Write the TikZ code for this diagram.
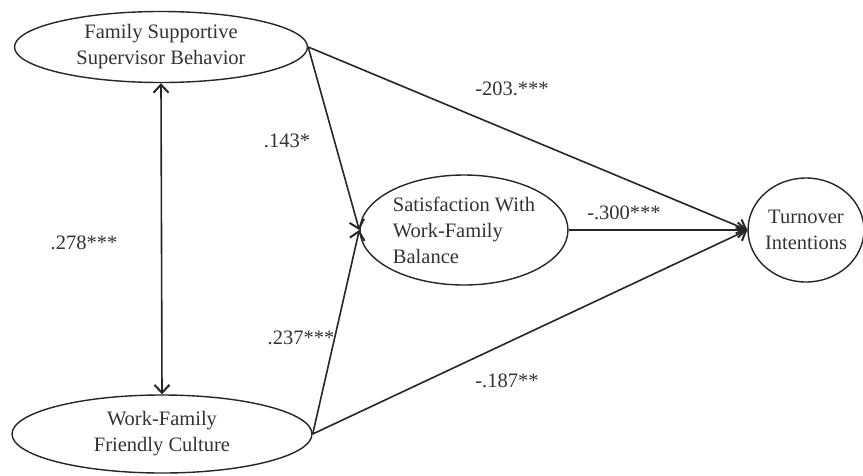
\documentclass[tikz,border=0pt]{standalone}
\usepackage{fontspec}
\setmainfont{Liberation Serif}
\usetikzlibrary{shapes.geometric,arrows.meta}
\begin{document}
\begin{tikzpicture}[x=1pt,y=-1pt,
  every node/.style={font=\fontsize{20.5}{26}\selectfont, text=black!80},
  var/.style={ellipse, draw=black!85, line width=1.4pt, inner sep=0pt, align=center},
  tip/.style={Straight Barb[length=8pt,width=15pt,line width=2pt]},
  path/.style={draw=black!85, line width=1.6pt, -{Straight Barb[length=8pt,width=15pt,line width=2pt]}},
  lbl/.style={inner sep=0pt}]
\useasboundingbox[fill=white] (0,0) rectangle (863,475);
\node[var, minimum width=293pt, minimum height=71pt] (fssb) at (161,47) {Family Supportive\\Supervisor Behavior};
\node[var, minimum width=300pt, minimum height=78pt] (wffc) at (162,434) {Work-Family\\Friendly Culture};
\node[var, minimum width=208pt, minimum height=110pt, align=left] (sat) at (464,230) {Satisfaction With\\Work-Family\\Balance};
\node[var, minimum width=113pt, minimum height=104pt] (ti) at (806,230) {Turnover\\Intentions};
\draw[path, {Straight Barb[length=8pt,width=15pt,line width=2pt]}-{Straight Barb[length=8pt,width=15pt,line width=2pt]}] (fssb.south) -- (wffc.north);
\draw[path] (fssb.east) -- (sat.west);
\draw[path] (wffc.east) -- (sat.west);
\draw[path] (fssb.east) -- (ti.west);
\draw[path] (wffc.east) -- (ti.west);
\draw[path] (sat.east) -- (ti.west);
\node[lbl] (l1) at (84,243) {.278***};
\node[lbl] (l2) at (287,141) {.143*};
\node[lbl] (l3) at (301,338) {.237***};
\node[lbl] (l4) at (512,89) {-203.***};
\node[lbl] (l5) at (624,213) {-.300***};
\node[lbl] (l6) at (507,381) {-.187**};
\end{tikzpicture}
\end{document}
